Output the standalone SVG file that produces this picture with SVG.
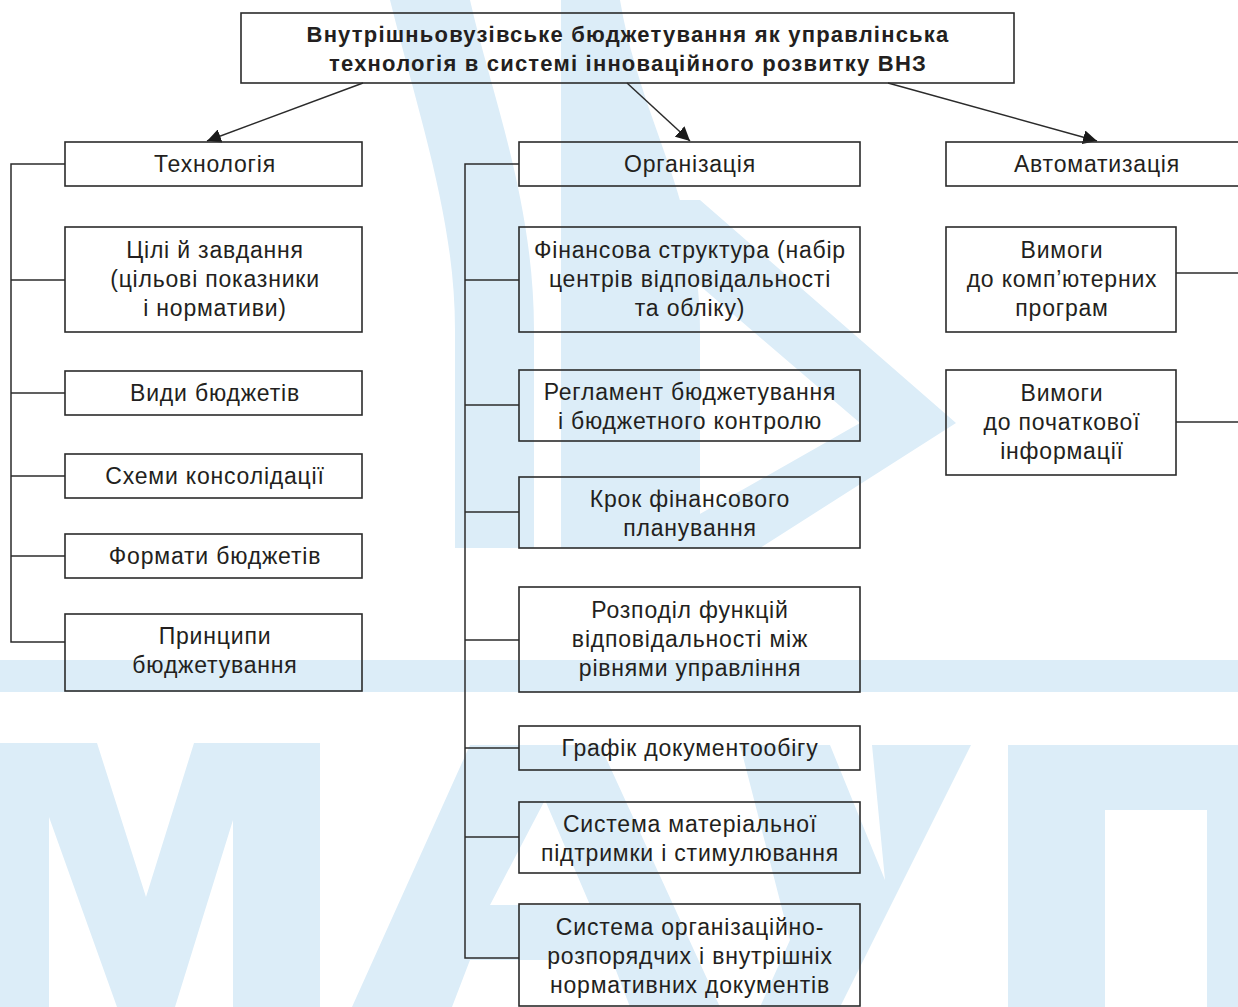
<svg xmlns="http://www.w3.org/2000/svg" width="1238" height="1007" viewBox="0 0 1238 1007">
<style>
.wm{fill:#dcedf8;stroke:none}
.box{fill:none;stroke:#2b2b2b;stroke-width:1.6}
.ln{fill:none;stroke:#2b2b2b;stroke-width:1.5}
.t{font-family:"Liberation Sans",Arial,sans-serif;font-size:23px;letter-spacing:0.8px;fill:#231f20;text-anchor:middle}
.tb{font-family:"Liberation Sans",Arial,sans-serif;font-size:22px;letter-spacing:1.2px;font-weight:bold;fill:#231f20;text-anchor:middle}
</style>
<defs>
<marker id="ah" viewBox="0 0 10 10" refX="10" refY="5" markerWidth="14" markerHeight="14" markerUnits="userSpaceOnUse" orient="auto">
<path d="M0,0 L10,5 L0,10 Z" fill="#1a1a1a"/>
</marker>
</defs>
<rect width="1238" height="1007" fill="#ffffff"/>
<g id="watermark">
<path class="wm" d="M390 0 C420 120 455 220 455 330 L455 548 L534 548 L534 330 C534 200 490 90 470 0 Z"/>
<path class="wm" d="M561 0 L620 0 C640 120 700 200 700 330 L700 548 L561 548 Z"/>
<path class="wm" d="M600 200 L700 200 L956 423 L760 548 L640 548 L860 423 Z"/>
<rect class="wm" x="0" y="660" width="1238" height="32"/>
<path class="wm" d="M0 743 L97 743 L146 897 L194 743 L320 743 L320 1007 L233 1007 L233 820 L175 1007 L117 1007 L49 817 L49 1007 L0 1007 Z"/>
<path class="wm" d="M352 1007 L470 745 L600 745 L720 1007 L630 1007 L612 960 L470 960 L452 1007 Z M490 905 L590 905 L545 800 Z"/>
<path class="wm" d="M740 745 L830 745 L885 880 L872 745 L971 745 L840 1007 L760 1007 L790 940 Z"/>
<path class="wm" d="M1008 745 L1238 745 L1238 1007 L1207 1007 L1207 810 L1105 810 L1105 1007 L1008 1007 Z"/>
</g>
<g id="connectors">
<line class="ln" x1="363" y1="83" x2="207" y2="141" marker-end="url(#ah)"/>
<line class="ln" x1="627" y1="83" x2="690" y2="141" marker-end="url(#ah)"/>
<line class="ln" x1="888" y1="83" x2="1097" y2="141" marker-end="url(#ah)"/>
<polyline class="ln" points="65,164 11,164 11,642 65,642"/>
<line class="ln" x1="11" y1="280" x2="65" y2="280"/>
<line class="ln" x1="11" y1="393" x2="65" y2="393"/>
<line class="ln" x1="11" y1="476" x2="65" y2="476"/>
<line class="ln" x1="11" y1="556" x2="65" y2="556"/>
<polyline class="ln" points="519,164 465,164 465,958 519,958"/>
<line class="ln" x1="465" y1="280" x2="519" y2="280"/>
<line class="ln" x1="465" y1="405" x2="519" y2="405"/>
<line class="ln" x1="465" y1="512" x2="519" y2="512"/>
<line class="ln" x1="465" y1="640" x2="519" y2="640"/>
<line class="ln" x1="465" y1="748" x2="519" y2="748"/>
<line class="ln" x1="465" y1="837" x2="519" y2="837"/>
<line class="ln" x1="1176" y1="273" x2="1238" y2="273"/>
<line class="ln" x1="1176" y1="422" x2="1238" y2="422"/>
</g>
<g id="root">
<rect class="box" x="241" y="13" width="773" height="70"/>
<text class="tb" x="628" y="42">Внутрішньовузівське бюджетування як управлінська</text>
<text class="tb" x="628" y="71">технологія в системі інноваційного розвитку ВНЗ</text>
</g>
<g id="tech">
<rect class="box" x="65" y="142" width="297" height="44"/>
<text class="t" x="215" y="172">Технологія</text>
</g>
<g id="tech-goals">
<rect class="box" x="65" y="227" width="297" height="105"/>
<text class="t" x="215" y="258">Цілі й завдання</text>
<text class="t" x="215" y="287">(цільові показники</text>
<text class="t" x="215" y="316">і нормативи)</text>
</g>
<g id="tech-types">
<rect class="box" x="65" y="371" width="297" height="44"/>
<text class="t" x="215" y="401">Види бюджетів</text>
</g>
<g id="tech-consol">
<rect class="box" x="65" y="454" width="297" height="44"/>
<text class="t" x="215" y="484">Схеми консолідації</text>
</g>
<g id="tech-formats">
<rect class="box" x="65" y="534" width="297" height="44"/>
<text class="t" x="215" y="564">Формати бюджетів</text>
</g>
<g id="tech-principles">
<rect class="box" x="65" y="614" width="297" height="77"/>
<text class="t" x="215" y="644">Принципи</text>
<text class="t" x="215" y="673">бюджетування</text>
</g>
<g id="org">
<rect class="box" x="519" y="142" width="341" height="44"/>
<text class="t" x="690" y="172">Організація</text>
</g>
<g id="org-fin">
<rect class="box" x="519" y="227" width="341" height="105"/>
<text class="t" x="690" y="258">Фінансова структура (набір</text>
<text class="t" x="690" y="287">центрів відповідальності</text>
<text class="t" x="690" y="316">та обліку)</text>
</g>
<g id="org-reg">
<rect class="box" x="519" y="370" width="341" height="71"/>
<text class="t" x="690" y="400">Регламент бюджетування</text>
<text class="t" x="690" y="429">і бюджетного контролю</text>
</g>
<g id="org-step">
<rect class="box" x="519" y="477" width="341" height="71"/>
<text class="t" x="690" y="507">Крок фінансового</text>
<text class="t" x="690" y="536">планування</text>
</g>
<g id="org-dist">
<rect class="box" x="519" y="587" width="341" height="105"/>
<text class="t" x="690" y="618">Розподіл функцій</text>
<text class="t" x="690" y="647">відповідальності між</text>
<text class="t" x="690" y="676">рівнями управління</text>
</g>
<g id="org-docs">
<rect class="box" x="519" y="726" width="341" height="44"/>
<text class="t" x="690" y="756">Графік документообігу</text>
</g>
<g id="org-motiv">
<rect class="box" x="519" y="802" width="341" height="71"/>
<text class="t" x="690" y="832">Система матеріальної</text>
<text class="t" x="690" y="861">підтримки і стимулювання</text>
</g>
<g id="org-norm">
<rect class="box" x="519" y="904" width="341" height="102"/>
<text class="t" x="690" y="935">Система організаційно-</text>
<text class="t" x="690" y="964">розпорядчих і внутрішніх</text>
<text class="t" x="690" y="993">нормативних документів</text>
</g>
<g id="auto">
<rect class="box" x="946" y="142" width="300" height="44"/>
<text class="t" x="1097" y="172">Автоматизація</text>
</g>
<g id="auto-soft">
<rect class="box" x="946" y="227" width="230" height="105"/>
<text class="t" x="1062" y="258">Вимоги</text>
<text class="t" x="1062" y="287">до комп’ютерних</text>
<text class="t" x="1062" y="316">програм</text>
</g>
<g id="auto-data">
<rect class="box" x="946" y="370" width="230" height="105"/>
<text class="t" x="1062" y="401">Вимоги</text>
<text class="t" x="1062" y="430">до початкової</text>
<text class="t" x="1062" y="459">інформації</text>
</g>
</svg>
